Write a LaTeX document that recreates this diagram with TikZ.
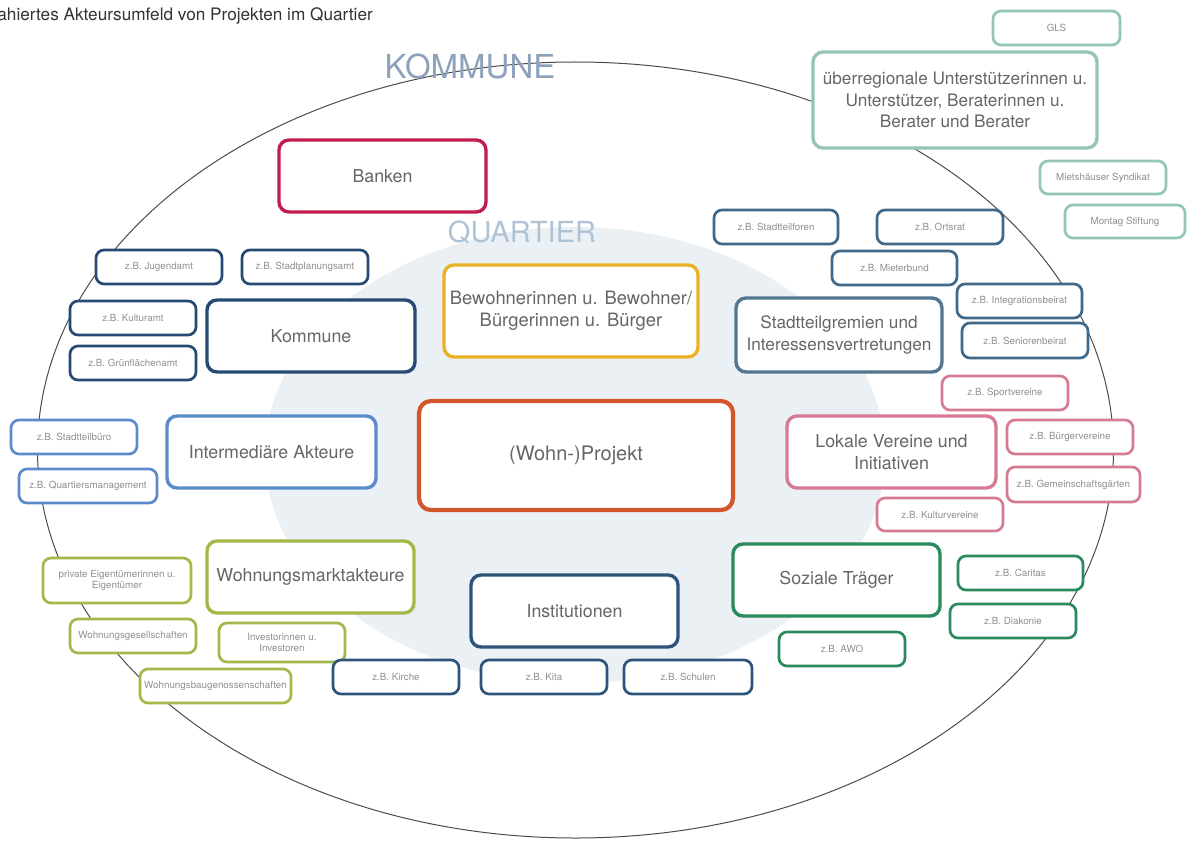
\documentclass[tikz,border=0pt]{standalone}
\usepackage{fontspec}
\setmainfont{TeX Gyre Heros}
\definecolor{txt}{HTML}{666666}
\definecolor{stxt}{HTML}{909090}
\definecolor{cteal}{HTML}{93C6B3}
\definecolor{ccrim}{HTML}{C21C4E}
\definecolor{cnavy}{HTML}{274A74}
\definecolor{cgold}{HTML}{EBB226}
\definecolor{csteel}{HTML}{52768F}
\definecolor{csteeld}{HTML}{3F6889}
\definecolor{cblue}{HTML}{5C8BCC}
\definecolor{corange}{HTML}{D4572B}
\definecolor{cpink}{HTML}{D77B93}
\definecolor{colive}{HTML}{A4B849}
\definecolor{cinst}{HTML}{2F5479}
\definecolor{cgreen}{HTML}{2B8A5D}
\definecolor{qfill}{HTML}{EBF0F5}
\definecolor{klab}{HTML}{8DA1BB}
\definecolor{qlab}{HTML}{AFC3D6}
\tikzset{
  sbox/.style={draw=#1, line width=1.35pt, rounded corners=4pt, fill=white, inner sep=0.5pt,
    font=\fontsize{4.9}{5.9}\selectfont, text=stxt, align=center},
  mbox/.style={draw=#1, line width=1.7pt, rounded corners=5pt, fill=white, inner sep=0.5pt,
    font=\fontsize{8.9}{11}\selectfont, text=txt, align=center},
}
\newcommand\abox[7]{\node[#6, minimum width={(#4-#2)*0.5pt}, minimum height={(#5-#3)*0.5pt}] (#1) at ({(#2+#4)/2},{(#3+#5)/2}) {#7};}
\begin{document}
\begin{tikzpicture}[x=0.5pt,y=-0.5pt]
\useasboundingbox (0,0) rectangle (1187,840);
\clip (0,0) rectangle (1187,840);
\fill[white] (0,0) rectangle (1187,840);
% title
\node[anchor=base west, inner sep=0pt, font=\fontsize{8.6}{10}\selectfont, text=black!80] (title) at (-3,21) {ahiertes Akteursumfeld von Projekten im Quartier};
% quartier area
\fill[qfill] (575,455) ellipse [x radius=155pt, y radius=114pt];
% kommune ellipse
\draw[line width=0.5pt, black!70] (575.5,450) ellipse [x radius=269pt, y radius=194pt];
\node[font=\fontsize{16.5}{18}\selectfont, text=klab, inner sep=0pt] (klabel) at (470,66) {KOMMUNE};
\node[font=\fontsize{14.5}{16}\selectfont, text=qlab, inner sep=0pt] (qlabel) at (522,232) {QUARTIER};
% top right
\abox{gls}{993}{11}{1120}{45}{sbox=cteal}{GLS}
\abox{ueber}{813}{52}{1097}{148}{mbox=cteal, font=\fontsize{8.6}{10.8}\selectfont}{überregionale Unterstützerinnen u.\\Unterstützer, Beraterinnen u.\\Berater und Berater}
\abox{syn}{1040}{161}{1166}{194}{sbox=cteal}{Mietshäuser Syndikat}
\abox{mont}{1065}{205}{1185}{238}{sbox=cteal}{Montag Stiftung}
% Banken
\abox{banken}{279}{140}{486}{212}{mbox=ccrim}{Banken}
% Kommune
\abox{jug}{96}{250}{222}{284}{sbox=cnavy}{z.B. Jugendamt}
\abox{spa}{242}{250}{368}{284}{sbox=cnavy}{z.B. Stadtplanungsamt}
\abox{kult}{70}{301}{196}{335}{sbox=cnavy}{z.B. Kulturamt}
\abox{gruen}{70}{346}{196}{380}{sbox=cnavy}{z.B. Grünflächenamt}
\abox{kommune}{207}{300}{415}{372}{mbox=cnavy}{Kommune}
% Bewohner
\abox{bew}{444}{265}{698}{357}{mbox=cgold, font=\fontsize{9.2}{11}\selectfont}{Bewohnerinnen u. Bewohner/\\Bürgerinnen u. Bürger}
% Stadtteilgremien
\abox{stf}{714}{210}{838}{244}{sbox=csteeld}{z.B. Stadtteilforen}
\abox{ort}{877}{210}{1003}{244}{sbox=csteeld}{z.B. Ortsrat}
\abox{miet}{832}{251}{957}{285}{sbox=csteeld}{z.B. Mieterbund}
\abox{integ}{957}{284}{1082}{318}{sbox=csteeld}{z.B. Integrationsbeirat}
\abox{senior}{962}{323}{1088}{358}{sbox=csteeld}{z.B. Seniorenbeirat}
\abox{gremien}{736}{298}{942}{372}{mbox=csteel, font=\fontsize{8.6}{11}\selectfont}{Stadtteilgremien und\\Interessensvertretungen}
% Intermediaere
\abox{stb}{11}{420}{137}{454}{sbox=cblue}{z.B. Stadtteilbüro}
\abox{qm}{19}{469}{157}{503}{sbox=cblue}{z.B. Quartiersmanagement}
\abox{inter}{167}{416}{376}{488}{mbox=cblue}{Intermediäre Akteure}
% Projekt
\node[draw=corange, line width=2.1pt, rounded corners=6pt, fill=white, font=\fontsize{10}{12}\selectfont, text=txt,
  minimum width={314*0.5pt}, minimum height={109*0.5pt}] (projekt) at (576,455.5) {(Wohn-)Projekt};
% Lokale Vereine
\abox{sport}{942}{376}{1068}{410}{sbox=cpink}{z.B. Sportvereine}
\abox{buerger}{1007}{420}{1133}{454}{sbox=cpink}{z.B. Bürgervereine}
\abox{garten}{1007}{467}{1140}{502}{sbox=cpink}{z.B. Gemeinschaftsgärten}
\abox{kultv}{877}{498}{1003}{531}{sbox=cpink}{z.B. Kulturvereine}
\abox{vereine}{787}{416}{996}{488}{mbox=cpink}{Lokale Vereine und\\Initiativen}
% Wohnungsmarkt
\abox{priv}{43}{558}{191}{603}{sbox=colive}{private Eigentümerinnen u.\\Eigentümer}
\abox{wges}{70}{619}{196}{653}{sbox=colive}{Wohnungsgesellschaften}
\abox{invest}{219}{623}{345}{662}{sbox=colive}{Investorinnen u.\\Investoren}
\abox{wbg}{140}{669}{291}{703}{sbox=colive}{Wohnungsbaugenossenschaften}
\abox{wma}{207}{541}{414}{613}{mbox=colive}{Wohnungsmarktakteure}
% Institutionen
\abox{inst}{471}{575}{678}{647}{mbox=cinst}{Institutionen}
\abox{kirche}{333}{660}{459}{694}{sbox=cinst}{z.B. Kirche}
\abox{kita}{481}{660}{607}{694}{sbox=cinst}{z.B. Kita}
\abox{schule}{624}{660}{752}{694}{sbox=cinst}{z.B. Schulen}
% Soziale Traeger
\abox{sozial}{733}{544}{940}{616}{mbox=cgreen}{Soziale Träger}
\abox{caritas}{958}{556}{1083}{590}{sbox=cgreen}{z.B. Caritas}
\abox{diak}{950}{604}{1076}{638}{sbox=cgreen}{z.B. Diakonie}
\abox{awo}{779}{632}{905}{666}{sbox=cgreen}{z.B. AWO}
\end{tikzpicture}
\end{document}
